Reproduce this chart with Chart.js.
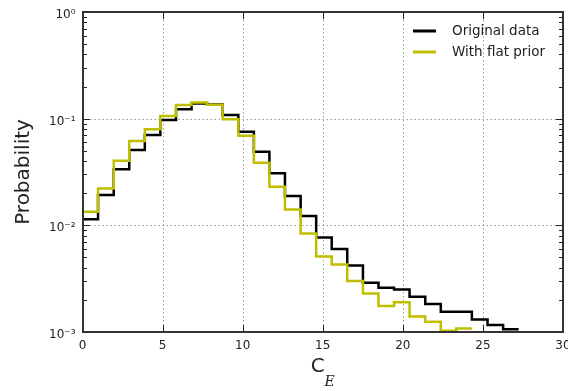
<!DOCTYPE html>
<html>
<head>
<meta charset="utf-8">
<script src="https://cdn.jsdelivr.net/npm/chart.js@4/dist/chart.umd.min.js"></script>
<style>
  html, body { margin: 0; padding: 0; background: #fff; }
  #wrap { width: 568px; height: 391px; }
</style>
</head>
<body>
<div id="wrap"><canvas id="histChart" width="568" height="391"></canvas></div>
<script>
// bin edges of the histogram (C_E)
const binEdges = [0, 0.97, 1.95, 2.92, 3.89, 4.86, 5.84, 6.81, 7.78, 8.75, 9.73,
    10.70, 11.67, 12.64, 13.62, 14.59, 15.56, 16.53, 17.51, 18.48, 19.45,
    20.42, 21.40, 22.37, 23.34, 24.31, 25.29, 26.26, 27.23];

// probability per bin
const originalData = [0.0114, 0.0192, 0.0335, 0.0508, 0.0703, 0.0971, 0.1225, 0.139, 0.136, 0.108,
    0.0755, 0.049, 0.0307, 0.0188, 0.0122, 0.0077, 0.0060, 0.0042, 0.0029, 0.0026,
    0.0025, 0.00214, 0.00183, 0.00155, 0.00155, 0.00131, 0.00116, 0.00106];
const flatPriorData = [0.0134, 0.0222, 0.0404, 0.0618, 0.0795, 0.106, 0.134, 0.142, 0.135, 0.0986,
    0.0693, 0.0387, 0.0230, 0.0141, 0.0084, 0.0051, 0.0043, 0.0030, 0.0023, 0.00175,
    0.0019, 0.0014, 0.00125, 0.00103, 0.00108];

const seriesLabels = ['Original data', 'With flat prior'];
const seriesColors = ['#000000', '#bfbf00'];

const xTicks = [0, 5, 10, 15, 20, 25, 30];
const yTicks = [0.001, 0.01, 0.1, 1];
const yTickLabels = ['10⁻³', '10⁻²', '10⁻¹', '10⁰'];

const FONT = "'DejaVu Sans', sans-serif";
const TEXT = '#222';

// step points: left edge of each bin, plus the closing right edge
function stepPoints(values) {
    const pts = values.map((v, i) => ({ x: binEdges[i], y: v }));
    pts.push({ x: binEdges[values.length], y: values[values.length - 1] });
    return pts;
}

const decorPlugin = {
    id: 'decor',
    beforeDatasetsDraw(chart) {
        const { ctx, chartArea: a, scales: { x, y } } = chart;
        ctx.save();
        ctx.strokeStyle = 'rgba(0,0,0,0.4)';
        ctx.lineWidth = 1;
        ctx.setLineDash([1.5, 2.5]);
        xTicks.slice(1, -1).forEach(v => {
            const px = Math.round(x.getPixelForValue(v)) + 0.5;
            ctx.beginPath(); ctx.moveTo(px, a.top); ctx.lineTo(px, a.bottom); ctx.stroke();
        });
        yTicks.slice(1, -1).forEach(v => {
            const py = Math.round(y.getPixelForValue(v)) + 0.5;
            ctx.beginPath(); ctx.moveTo(a.left, py); ctx.lineTo(a.right, py); ctx.stroke();
        });
        ctx.restore();
    },
    afterDraw(chart) {
        const { ctx, chartArea: a, scales: { x, y } } = chart;
        const L = Math.round(a.left), R = Math.round(a.right);
        const T = Math.round(a.top), B = Math.round(a.bottom);
        ctx.save();
        ctx.setLineDash([]);
        ctx.strokeStyle = TEXT;

        // inside tick marks
        ctx.lineWidth = 1;
        xTicks.forEach(v => {
            const px = Math.round(x.getPixelForValue(v)) + 0.5;
            ctx.beginPath();
            ctx.moveTo(px, B); ctx.lineTo(px, B - 7);
            ctx.moveTo(px, T); ctx.lineTo(px, T + 7);
            ctx.stroke();
        });
        for (let k = -3; k <= 0; k++) {
            for (let m = 1; m <= 9; m++) {
                const v = m * Math.pow(10, k);
                if (v > 1.0001) break;
                const len = m === 1 ? 7 : 4;
                const py = Math.round(y.getPixelForValue(v)) + 0.5;
                ctx.beginPath();
                ctx.moveTo(L, py); ctx.lineTo(L + len, py);
                ctx.moveTo(R, py); ctx.lineTo(R - len, py);
                ctx.stroke();
            }
        }

        // frame
        ctx.beginPath();
        ctx.strokeStyle = '#333';
        ctx.lineWidth = 2;
        ctx.rect(L, T, R - L, B - T);
        ctx.stroke();

        // axis titles
        ctx.fillStyle = TEXT;
        ctx.save();
        ctx.translate(24, (a.top + a.bottom) / 2);
        ctx.rotate(-Math.PI / 2);
        ctx.font = '20px ' + FONT;
        ctx.textAlign = 'center';
        ctx.textBaseline = 'middle';
        ctx.fillText('Probability', 0, 0);
        ctx.restore();

        ctx.font = '20px ' + FONT;
        const wC = ctx.measureText('C').width;
        ctx.font = "italic 14px 'DejaVu Serif', serif";
        const wE = ctx.measureText('E').width;
        const cx = (a.left + a.right) / 2 - (wC + wE) / 2;
        ctx.textAlign = 'left';
        ctx.textBaseline = 'alphabetic';
        ctx.font = '20px ' + FONT;
        ctx.fillText('C', cx, 372);
        ctx.font = "italic 14px 'DejaVu Serif', serif";
        ctx.fillText('E', cx + wC, 386);

        // legend
        ctx.font = '13.5px ' + FONT;
        ctx.textBaseline = 'middle';
        seriesLabels.forEach((lab, i) => {
            const ly = 31 + i * 21;
            ctx.strokeStyle = seriesColors[i];
            ctx.lineWidth = 3;
            ctx.beginPath(); ctx.moveTo(413, ly); ctx.lineTo(436, ly); ctx.stroke();
            ctx.fillStyle = TEXT;
            ctx.fillText(lab, 452, ly);
        });
        ctx.restore();
    }
};

new Chart(document.getElementById('histChart').getContext('2d'), {
    type: 'line',
    data: {
        datasets: [
            {
                label: seriesLabels[0],
                data: stepPoints(originalData),
                borderColor: seriesColors[0],
                borderWidth: 2.5,
                stepped: 'before',
                pointRadius: 0,
                fill: false,
                order: 1
            },
            {
                label: seriesLabels[1],
                data: stepPoints(flatPriorData),
                borderColor: seriesColors[1],
                borderWidth: 2.5,
                stepped: 'before',
                pointRadius: 0,
                fill: false,
                order: 0
            }
        ]
    },
    options: {
        responsive: false,
        animation: false,
        layout: { padding: { top: 12, right: 5, left: 0, bottom: 0 } },
        plugins: {
            legend: { display: false },
            tooltip: { enabled: false }
        },
        scales: {
            x: {
                type: 'linear',
                min: 0,
                max: 30,
                grid: { display: false, drawTicks: false },
                border: { display: false },
                afterBuildTicks: scale => { scale.ticks = xTicks.map(v => ({ value: v })); },
                afterFit: scale => {
                    scale.height = 59;
                    scale.paddingLeft = 0;
                    scale.paddingRight = 0;
                },
                ticks: {
                    padding: 7,
                    maxRotation: 0,
                    color: TEXT,
                    font: { family: FONT, size: 12 }
                }
            },
            y: {
                type: 'logarithmic',
                min: 0.001,
                max: 1,
                grid: { display: false, drawTicks: false },
                border: { display: false },
                afterBuildTicks: scale => { scale.ticks = yTicks.map(v => ({ value: v })); },
                afterFit: scale => {
                    scale.width = 82.5;
                    scale.paddingTop = 0;
                    scale.paddingBottom = 0;
                },
                ticks: {
                    padding: 7,
                    labelOffset: 3,
                    color: TEXT,
                    font: { family: FONT, size: 12 },
                    callback: (value, index) => yTickLabels[index]
                }
            }
        }
    },
    plugins: [decorPlugin]
});
</script>
</body>
</html>
